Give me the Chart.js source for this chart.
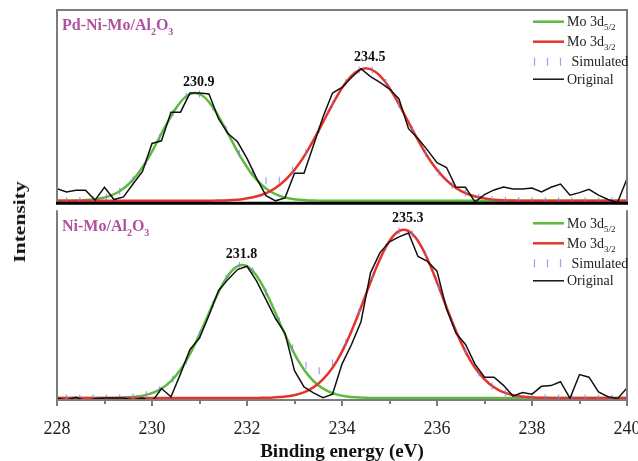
<!DOCTYPE html>
<html>
<head>
<meta charset="utf-8">
<script src="https://cdn.jsdelivr.net/npm/chart.js@4.4.0/dist/chart.umd.min.js"></script>
<style>
html, body { margin: 0; padding: 0; background: #fff; overflow: hidden; }
#wrap { position: relative; width: 638px; height: 461px; }
#botChart { position: absolute; left: 0; top: 206px; }
#topChart { position: absolute; left: 0; top: 0; }
#ylab {
    position: absolute; left: 20px; top: 222px; white-space: nowrap;
    font: bold 16px "Liberation Serif", serif; color: #111;
    transform: translate(-50%, -50%) rotate(-90deg) scaleX(1.35);
}
</style>
</head>
<body>
<div id="wrap">
    <canvas id="botChart" width="638" height="264"></canvas>
    <canvas id="topChart" width="638" height="208"></canvas>
    <div id="ylab">Intensity</div>
</div>
<script>
// ===== DATA =====
const energy = [228.0, 228.2, 228.4, 228.6, 228.8, 229.0, 229.2, 229.4, 229.6, 229.8,
    230.0, 230.2, 230.4, 230.6, 230.8, 231.0, 231.2, 231.4, 231.6, 231.8,
    232.0, 232.2, 232.4, 232.6, 232.8, 233.0, 233.2, 233.4, 233.6, 233.8,
    234.0, 234.2, 234.4, 234.6, 234.8, 235.0, 235.2, 235.4, 235.6, 235.8,
    236.0, 236.2, 236.4, 236.6, 236.8, 237.0, 237.2, 237.4, 237.6, 237.8,
    238.0, 238.2, 238.4, 238.6, 238.8, 239.0, 239.2, 239.4, 239.6, 239.8, 240.0];

const originalTop = [12.3, 9, 10.7, 10.7, 0.7, 13.7, 1.3, 4, 17, 29.7,
    58, 60.7, 89.7, 89.7, 109, 109, 108, 83, 68, 59.7,
    43, 23, 5.3, 0, 3, 28, 28, 56.3, 84.7, 109,
    114.7, 124.7, 133.7, 125.7, 119.7, 113, 103, 73, 63, 51.3,
    38.5, 33.7, 13.7, 13.7, -1, 6.3, 11, 14, 12, 12,
    13, 9, 13.7, 17, 5.7, 8.3, 11.7, 5.7, 1.3, -1.7, 22.3];

const originalBot = [-0.3, -2, 0.7, -2.7, -0.7, 0, 0, 0, -2, 0,
    -3.7, 9.7, 1.3, 24.7, 49.7, 61.3, 84.7, 109.7, 121.3, 131.3,
    134.7, 119.7, 100.7, 81.3, 66.3, 28, 11.3, 5.3, 0.3, 4,
    34.7, 54.7, 78, 128, 148.7, 159.7, 164.7, 168.7, 144.7, 139.7,
    129.7, 91.3, 66.3, 54.7, 34.7, 21.3, 21.3, 13, 2, 5.7,
    4, 12, 12.7, 16.7, -0.3, 24, 21.3, 6.3, 1.3, -0.7, 10.3];

const simEnergy = [228.20, 228.48, 228.76, 229.04, 229.32, 229.60, 229.88, 230.16, 230.44, 230.72,
    231.00, 231.28, 231.56, 231.84, 232.12, 232.40, 232.68, 232.96, 233.24, 233.52,
    233.80, 234.08, 234.36, 234.64, 234.92, 235.20, 235.48, 235.76, 236.04, 236.32,
    236.60, 236.88, 237.16, 237.44, 237.72, 238.00, 238.28, 238.56, 238.84, 239.12, 239.40, 239.68];

const simulatedTop = [0.1, 0.4, 1.3, 3.9, 9.8, 21.4, 40.0, 64.3, 88.9, 105.6,
    108.0, 95.0, 72.1, 47.9, 29.4, 20.2, 20.9, 30.8, 48.7, 72.2,
    97.7, 119.6, 132.3, 132.3, 119.6, 97.7, 72.1, 48.1, 29.0, 15.8,
    7.8, 3.5, 1.4, 0.5, 0.2, 0, 0, 0, 0, 0, 0, 0];

const simulatedBot = [0, 0, 0, 0.1, 0.3, 1.1, 3.3, 8.6, 19.4, 38.1,
    64.9, 95.7, 122.4, 135.6, 130.2, 108.5, 78.9, 51.3, 33.2, 27.8,
    36.0, 57.1, 88.2, 123.5, 154.1, 170.7, 167.8, 146.4, 113.3, 77.8,
    47.4, 25.7, 12.3, 5.2, 2.0, 0.7, 0.2, 0, 0, 0, 0, 0];

// fitted components (Mo 3d5/2 green, Mo 3d3/2 red)
const fitTopGreenE = [228.0, 228.1, 228.3, 228.5, 228.7, 228.9, 229.1, 229.3, 229.5, 229.7,
    229.9, 230.1, 230.3, 230.5, 230.7, 230.9, 231.1, 231.3, 231.5, 231.7,
    231.9, 232.1, 232.3, 232.5, 232.7, 232.9, 233.1, 233.3, 233.5, 233.7, 240.0];
const fitTopGreen = [0, 0, 0.2, 0.4, 1.0, 2.3, 4.8, 9.2, 16.5, 27.2,
    41.6, 58.8, 77.0, 93.4, 104.9, 109, 104.9, 93.4, 77.0, 58.8,
    41.6, 27.2, 16.5, 9.2, 4.8, 2.3, 1.0, 0.4, 0.2, 0, 0];

const fitTopRedE = [228.0, 231.1, 231.3, 231.5, 231.7, 231.9, 232.1, 232.3, 232.5, 232.7,
    232.9, 233.1, 233.3, 233.5, 233.7, 233.9, 234.1, 234.3, 234.5, 234.7,
    234.9, 235.1, 235.3, 235.5, 235.7, 235.9, 236.1, 236.3, 236.5, 236.7,
    236.9, 237.1, 237.3, 237.5, 237.7, 237.9, 240.0];
const fitTopRed = [0, 0, 0.2, 0.4, 0.8, 1.7, 3.3, 5.9, 10.1, 16.5,
    25.7, 37.8, 52.9, 70.3, 88.6, 106.2, 120.9, 130.6, 134, 130.6,
    120.9, 106.2, 88.6, 70.3, 52.9, 37.8, 25.7, 16.5, 10.1, 5.9,
    3.3, 1.7, 0.8, 0.4, 0.2, 0, 0];

const fitBotGreenE = [228.0, 229.1, 229.3, 229.5, 229.7, 229.9, 230.1, 230.3, 230.5, 230.7,
    230.9, 231.1, 231.3, 231.5, 231.7, 231.9, 232.1, 232.3, 232.5, 232.7,
    232.9, 233.1, 233.3, 233.5, 233.7, 233.9, 234.1, 234.3, 234.5, 234.7, 240.0];
const fitBotGreen = [0, 0.1, 0.3, 0.7, 1.6, 3.5, 7.1, 13.1, 22.7, 36.5,
    54.6, 75.8, 97.9, 117.5, 131.1, 136, 131.1, 117.5, 97.9, 75.8,
    54.6, 36.5, 22.7, 13.1, 7.1, 3.5, 1.6, 0.7, 0.3, 0.1, 0];

const fitBotRedE = [228.0, 232.1, 232.3, 232.5, 232.7, 232.9, 233.1, 233.3, 233.5, 233.7,
    233.9, 234.1, 234.3, 234.5, 234.7, 234.9, 235.1, 235.3, 235.5, 235.7,
    235.9, 236.1, 236.3, 236.5, 236.7, 236.9, 237.1, 237.3, 237.5, 237.7,
    237.9, 238.1, 238.3, 238.5, 240.0];
const fitBotRed = [0, 0, 0.2, 0.4, 1.0, 2.1, 4.3, 8.2, 14.6, 24.5,
    38.6, 57.4, 80.3, 105.6, 130.7, 152.3, 166.8, 172, 166.8, 152.3,
    130.7, 105.6, 80.3, 57.4, 38.6, 24.5, 14.6, 8.2, 4.3, 2.1,
    1.0, 0.4, 0.2, 0, 0];

const xTickLabels = [228, 230, 232, 234, 236, 238, 240];
const peakLabelsTop = ["230.9", "234.5"];
const peakLabelsBot = ["231.8", "235.3"];

// ===== STYLE =====
const GREEN = "#5cbb3e";
const RED = "#e6342b";
const BLACK = "#111111";
const SIM = "rgba(120,132,225,0.75)";
const FRAME = "#7c7c7c";
const PURPLE = "#b0529f";
const SERIF = '"Liberation Serif", "Times New Roman", serif';

function xy(xs, ys) {
    return xs.map((x, i) => ({ x: x, y: ys[i] }));
}

// text with subscripts: parts = [[text, isSub], ...]
function drawRich(ctx, parts, x, y, size, bold, color, align) {
    const w = bold ? "bold " : "";
    const mainFont = w + size + "px " + SERIF;
    const subFont = w + Math.round(size * 0.62) + "px " + SERIF;
    let total = 0;
    parts.forEach(p => {
        ctx.font = p[1] ? subFont : mainFont;
        total += ctx.measureText(p[0]).width;
    });
    let cx = align === "center" ? x - total / 2 : x;
    ctx.fillStyle = color;
    ctx.textAlign = "left";
    ctx.textBaseline = "alphabetic";
    parts.forEach(p => {
        ctx.font = p[1] ? subFont : mainFont;
        ctx.fillText(p[0], cx, p[1] ? y + size * 0.3 : y);
        cx += ctx.measureText(p[0]).width;
    });
}

// ===== FRAME / LABELS / LEGEND =====
const panelDeco = {
    id: "panelDeco",
    afterDatasetsDraw(chart, args, opts) {
        const ctx = chart.ctx;
        const a = chart.chartArea;
        const xs = chart.scales.x;
        const ys = chart.scales.y;
        ctx.save();

        // frame
        ctx.strokeStyle = FRAME;
        ctx.lineWidth = 2;
        ctx.beginPath();
        ctx.moveTo(a.left, a.bottom);
        ctx.lineTo(a.left, opts.isTop ? a.top : a.top - 1);
        if (opts.isTop) ctx.lineTo(a.right, a.top);
        else ctx.moveTo(a.right, a.top - 1);
        ctx.lineTo(a.right, a.bottom);
        ctx.stroke();

        if (opts.isTop) {
            ctx.strokeStyle = "#000";
            ctx.lineWidth = 3;
            ctx.beginPath();
            ctx.moveTo(a.left - 1, a.bottom + 0.5);
            ctx.lineTo(a.right + 1, a.bottom + 0.5);
            ctx.stroke();
        } else {
            ctx.strokeStyle = FRAME;
            ctx.lineWidth = 2;
            ctx.beginPath();
            ctx.moveTo(a.left - 1, a.bottom);
            ctx.lineTo(a.right + 1, a.bottom);
            for (let v = 228; v <= 240; v++) {
                const px = Math.round(xs.getPixelForValue(v));
                ctx.moveTo(px, a.bottom);
                ctx.lineTo(px, a.bottom + (v % 2 === 0 ? 6 : 4));
            }
            ctx.stroke();
        }

        // panel title
        drawRich(ctx, opts.title, a.left + 5, a.top + opts.titleDy, 16, true, PURPLE, "left");

        // peak labels above fitted maxima
        opts.peaks.forEach((txt, i) => {
            const ds = chart.data.datasets[3 - i];
            const top = Math.max(...ds.data.map(p => p.y));
            const px = xs.getPixelForValue(parseFloat(txt)) + 4;
            const py = ys.getPixelForValue(top) - 7.5;
            drawRich(ctx, [[txt, 0]], px, py, 14, true, "#111", "center");
        });

        // legend
        const rowDy = [0, 20, 40, 57.5];
        [3, 2, 1, 0].forEach((di, r) => {
            const ds = chart.data.datasets[di];
            const yy = opts.legendY + rowDy[r];
            if (ds.showLine === false) {
                ctx.strokeStyle = SIM;
                ctx.lineWidth = 1.2;
                ctx.beginPath();
                for (let k = 0; k < 3; k++) {
                    const lx = 534.5 + 13 * k;
                    ctx.moveTo(lx, yy - 4);
                    ctx.lineTo(lx, yy + 4);
                }
                ctx.stroke();
                drawRich(ctx, ds.legendParts, 571.5, yy + 4.5, 14, false, "#222", "left");
            } else {
                ctx.strokeStyle = ds.borderColor;
                ctx.lineWidth = ds.borderWidth;
                ctx.beginPath();
                ctx.moveTo(533, yy);
                ctx.lineTo(564, yy);
                ctx.stroke();
                drawRich(ctx, ds.legendParts, 567, yy + 4.5, 14, false, "#222", "left");
            }
        });
        ctx.restore();
    }
};

function makePanel(canvasId, cfg) {
    return new Chart(document.getElementById(canvasId), {
        type: "line",
        data: {
            datasets: [
                {
                    label: "Original", legendParts: [["Original", 0]],
                    data: xy(energy, cfg.original),
                    borderColor: BLACK, borderWidth: 1.5, pointRadius: 0, tension: 0
                },
                {
                    label: "Simulated", legendParts: [["Simulated", 0]],
                    data: xy(simEnergy, cfg.simulated), showLine: false,
                    pointStyle: "line", rotation: 90, pointRadius: 3.5,
                    borderColor: SIM, pointBorderColor: SIM, pointBorderWidth: 1.2
                },
                {
                    label: "Mo 3d3/2", legendParts: [["Mo 3d", 0], ["3/2", 1]],
                    data: xy(cfg.redE, cfg.red),
                    borderColor: RED, borderWidth: 2.5, pointRadius: 0,
                    cubicInterpolationMode: "monotone"
                },
                {
                    label: "Mo 3d5/2", legendParts: [["Mo 3d", 0], ["5/2", 1]],
                    data: xy(cfg.greenE, cfg.green),
                    borderColor: GREEN, borderWidth: 2.5, pointRadius: 0,
                    cubicInterpolationMode: "monotone"
                }
            ]
        },
        options: {
            responsive: false,
            animation: false,
            events: [],
            layout: { padding: cfg.padding },
            scales: {
                x: {
                    type: "linear", min: 228, max: 240, display: cfg.showX,
                    grid: { display: false, drawTicks: false },
                    border: { display: false },
                    ticks: {
                        stepSize: 1, autoSkip: false, maxRotation: 0, minRotation: 0,
                        padding: 18, color: "#222",
                        font: { family: SERIF, size: 18 },
                        callback: v => xTickLabels.includes(v) ? String(v) : ""
                    },
                    title: {
                        display: true, text: "Binding energy (eV)", color: "#111",
                        font: { family: SERIF, size: 19, weight: "bold" },
                        padding: { top: 0, bottom: 6.6 }
                    },
                    afterFit: s => {
                        s.paddingLeft = 0;
                        s.paddingRight = 0;
                        if (cfg.axisHeight) s.height = cfg.axisHeight;
                    }
                },
                y: { min: cfg.yMin, max: cfg.yMax, display: false }
            },
            plugins: {
                legend: { display: false },
                tooltip: { enabled: false },
                panelDeco: {
                    isTop: cfg.isTop, title: cfg.title, titleDy: cfg.titleDy,
                    peaks: cfg.peaks, legendY: cfg.legendY
                }
            }
        },
        plugins: [panelDeco]
    });
}

makePanel("topChart", {
    isTop: true, showX: false,
    padding: { left: 57, right: 11, top: 10, bottom: 3 },
    yMin: -2, yMax: 193,
    original: originalTop, simulated: simulatedTop,
    greenE: fitTopGreenE, green: fitTopGreen, redE: fitTopRedE, red: fitTopRed,
    title: [["Pd-Ni-Mo/Al", 0], ["2", 1], ["O", 0], ["3", 1]], titleDy: 20,
    peaks: peakLabelsTop, legendY: 21.7
});

makePanel("botChart", {
    isTop: false, showX: true, axisHeight: 70,
    padding: { left: 57, right: 11, top: 1, bottom: 0 },
    yMin: -2, yMax: 191,
    original: originalBot, simulated: simulatedBot,
    greenE: fitBotGreenE, green: fitBotGreen, redE: fitBotRedE, red: fitBotRed,
    title: [["Ni-Mo/Al", 0], ["2", 1], ["O", 0], ["3", 1]], titleDy: 19.7,
    peaks: peakLabelsBot, legendY: 17.3
});
</script>
</body>
</html>
